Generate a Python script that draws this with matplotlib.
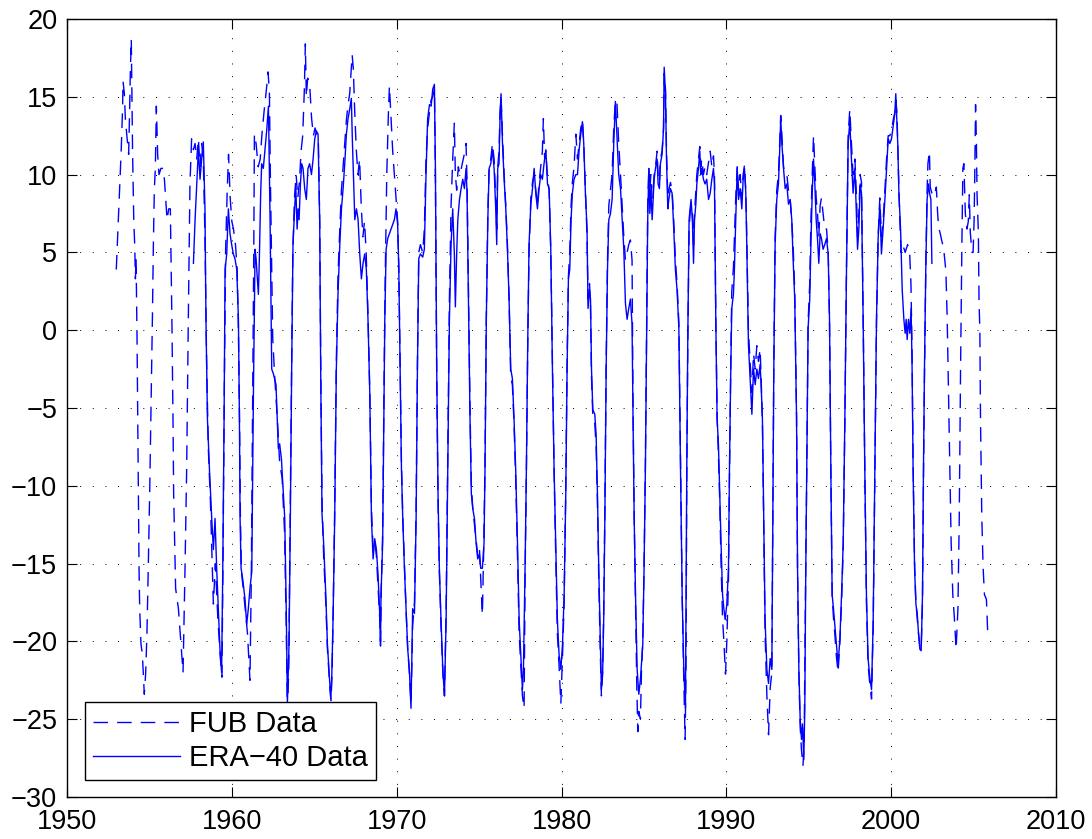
import matplotlib
matplotlib.use('Agg')
import matplotlib.pyplot as plt

plt.rcParams['font.family'] = ['Liberation Sans', 'DejaVu Sans']

# FUB data (dashed), decimal year / value
fub_years = [
    1952.99, 1953.09, 1953.19, 1953.29, 1953.37, 1953.40, 1953.48, 1953.54, 1953.64, 1953.74,
    1953.80, 1953.84, 1953.90, 1953.94, 1953.98, 1954.05, 1954.11, 1954.15, 1954.19, 1954.25,
    1954.29, 1954.33, 1954.37, 1954.41, 1954.49, 1954.57, 1954.69, 1954.77, 1954.85, 1954.93,
    1955.02, 1955.10, 1955.18, 1955.24, 1955.30, 1955.36, 1955.42, 1955.50, 1955.58, 1955.70,
    1955.83, 1955.91, 1955.99, 1956.07, 1956.17, 1956.27, 1956.37, 1956.43, 1956.47, 1956.53,
    1956.59, 1956.76, 1956.92, 1957.04, 1957.16, 1957.26, 1957.36, 1957.46, 1957.56, 1957.67,
    1957.77, 1957.87, 1957.97, 1958.07, 1958.17, 1958.27, 1958.37, 1958.47, 1958.57, 1958.70,
    1958.88, 1959.00, 1959.15, 1959.30, 1959.40, 1959.47, 1959.55, 1959.62, 1959.72, 1959.80,
    1959.90, 1960.00, 1960.10, 1960.22, 1960.32, 1960.40, 1960.47, 1960.52, 1960.58, 1960.68,
    1960.82, 1960.95, 1961.10, 1961.18, 1961.25, 1961.33, 1961.37, 1961.47, 1961.60, 1961.72,
    1961.82, 1961.95, 1962.10, 1962.20, 1962.28, 1962.34, 1962.42, 1962.48, 1962.60, 1962.75,
    1962.90, 1963.05, 1963.20, 1963.30, 1963.37, 1963.45, 1963.53, 1963.62, 1963.70, 1963.80,
    1963.90, 1964.00, 1964.10, 1964.20, 1964.30, 1964.40, 1964.46, 1964.52, 1964.60, 1964.72,
    1964.84, 1964.95, 1965.05, 1965.15, 1965.25, 1965.33, 1965.40, 1965.47, 1965.57, 1965.70,
    1965.80, 1965.95, 1966.02, 1966.08, 1966.15, 1966.24, 1966.34, 1966.44, 1966.55, 1966.65,
    1966.75, 1966.85, 1966.95, 1967.05, 1967.15, 1967.30, 1967.37, 1967.45, 1967.55, 1967.65,
    1967.75, 1967.85, 1967.95, 1968.05, 1968.15, 1968.26, 1968.37, 1968.47, 1968.57, 1968.67,
    1968.77, 1968.87, 1968.97, 1969.02, 1969.07, 1969.15, 1969.22, 1969.30, 1969.40, 1969.50,
    1969.56, 1969.66, 1969.76, 1969.86, 1969.96, 1970.06, 1970.13, 1970.21, 1970.29, 1970.37,
    1970.47, 1970.57, 1970.67, 1970.77, 1970.87, 1970.97, 1971.08, 1971.18, 1971.26, 1971.34,
    1971.44, 1971.58, 1971.68, 1971.78, 1971.88, 1971.99, 1972.09, 1972.19, 1972.29, 1972.35,
    1972.43, 1972.51, 1972.59, 1972.69, 1972.80, 1972.90, 1973.00, 1973.10, 1973.20, 1973.30,
    1973.40, 1973.50, 1973.56, 1973.64, 1973.74, 1973.84, 1973.94, 1974.04, 1974.14, 1974.21,
    1974.27, 1974.37, 1974.45, 1974.53, 1974.62, 1974.72, 1974.82, 1974.92, 1975.02, 1975.10,
    1975.20, 1975.28, 1975.36, 1975.44, 1975.53, 1975.61, 1975.71, 1975.81, 1975.91, 1976.01,
    1976.07, 1976.13, 1976.21, 1976.27, 1976.33, 1976.42, 1976.52, 1976.62, 1976.72, 1976.82,
    1976.92, 1977.02, 1977.12, 1977.22, 1977.33, 1977.43, 1977.53, 1977.63, 1977.73, 1977.79,
    1977.87, 1977.95, 1978.03, 1978.14, 1978.24, 1978.34, 1978.44, 1978.54, 1978.64, 1978.74,
    1978.84, 1978.90, 1978.98, 1979.05, 1979.15, 1979.25, 1979.35, 1979.45, 1979.55, 1979.65,
    1979.75, 1979.85, 1979.96, 1980.06, 1980.16, 1980.26, 1980.34, 1980.42, 1980.50, 1980.58,
    1980.66, 1980.76, 1980.87, 1980.97, 1981.07, 1981.17, 1981.27, 1981.35, 1981.45, 1981.55,
    1981.61, 1981.70, 1981.76, 1981.82, 1981.90, 1982.02, 1982.10, 1982.18, 1982.26, 1982.36,
    1982.42, 1982.50, 1982.56, 1982.63, 1982.71, 1982.79, 1982.87, 1982.97, 1983.07, 1983.17,
    1983.27, 1983.37, 1983.47, 1983.58, 1983.68, 1983.78, 1983.88, 1983.98, 1984.08, 1984.18,
    1984.28, 1984.34, 1984.41, 1984.49, 1984.57, 1984.63, 1984.69, 1984.79, 1984.85, 1984.93,
    1985.01, 1985.09, 1985.17, 1985.23, 1985.30, 1985.36, 1985.42, 1985.50, 1985.56, 1985.62,
    1985.70, 1985.80, 1985.86, 1985.94, 1986.00, 1986.10, 1986.19, 1986.23, 1986.31, 1986.37,
    1986.45, 1986.51, 1986.61, 1986.71, 1986.81, 1986.91, 1987.01, 1987.12, 1987.22, 1987.32,
    1987.42, 1987.50, 1987.55, 1987.60, 1987.66, 1987.74, 1987.80, 1987.86, 1987.94, 1988.01,
    1988.07, 1988.15, 1988.21, 1988.31, 1988.39, 1988.45, 1988.51, 1988.61, 1988.71, 1988.81,
    1988.92, 1989.02, 1989.12, 1989.22, 1989.28, 1989.36, 1989.44, 1989.52, 1989.60, 1989.68,
    1989.77, 1989.85, 1989.95, 1990.03, 1990.13, 1990.19, 1990.27, 1990.33, 1990.43, 1990.49,
    1990.57, 1990.66, 1990.74, 1990.84, 1990.94, 1991.02, 1991.10, 1991.18, 1991.24, 1991.34,
    1991.44, 1991.55, 1991.65, 1991.75, 1991.85, 1991.95, 1992.05, 1992.11, 1992.19, 1992.27,
    1992.35, 1992.46, 1992.56, 1992.66, 1992.76, 1992.82, 1992.88, 1992.96, 1993.06, 1993.16,
    1993.22, 1993.30, 1993.37, 1993.47, 1993.57, 1993.67, 1993.77, 1993.87, 1993.97, 1994.05,
    1994.15, 1994.26, 1994.32, 1994.40, 1994.48, 1994.56, 1994.65, 1994.72, 1994.80, 1994.88,
    1994.96, 1995.06, 1995.13, 1995.21, 1995.29, 1995.37, 1995.45, 1995.53, 1995.61, 1995.69,
    1995.77, 1995.87, 1995.97, 1996.08, 1996.18, 1996.26, 1996.34, 1996.42, 1996.50, 1996.58,
    1996.68, 1996.78, 1996.89, 1996.99, 1997.09, 1997.19, 1997.29, 1997.39, 1997.49, 1997.59,
    1997.69, 1997.80, 1997.90, 1997.96, 1998.04, 1998.12, 1998.20, 1998.30, 1998.40, 1998.50,
    1998.60, 1998.71, 1998.81, 1998.91, 1999.01, 1999.11, 1999.21, 1999.31, 1999.41, 1999.51,
    1999.62, 1999.72, 1999.82, 1999.92, 2000.02, 2000.12, 2000.22, 2000.28, 2000.35, 2000.42,
    2000.47, 2000.53, 2000.60, 2000.70, 2000.85, 2001.00, 2001.12, 2001.20, 2001.27, 2001.33,
    2001.42, 2001.50, 2001.58, 2001.66, 2001.74, 2001.82, 2001.90, 2001.96, 2002.02, 2002.10,
    2002.18, 2002.23, 2002.32, 2002.37, 2002.47, 2002.57, 2002.67, 2002.74, 2002.82, 2002.88,
    2002.98, 2003.08, 2003.18, 2003.32, 2003.40, 2003.48, 2003.56, 2003.64, 2003.74, 2003.84,
    2003.94, 2004.05, 2004.13, 2004.21, 2004.29, 2004.35, 2004.41, 2004.50, 2004.60, 2004.68,
    2004.74, 2004.80, 2004.90, 2004.97, 2005.03, 2005.07, 2005.12, 2005.17, 2005.21, 2005.29,
    2005.33, 2005.38, 2005.42, 2005.50, 2005.58, 2005.66, 2005.78, 2005.87,
]
fub_values = [
    3.9, 6.5, 9.1, 11.6, 14.2, 16.0, 15.2, 13.6, 12.4, 11.3,
    14.2, 16.5, 18.7, 15.2, 11.3, 7.1, 5.4, 3.3, 4.6, -0.6,
    -5.7, -10.8, -15.3, -17.9, -20.2, -20.8, -23.4, -22.1, -19.5, -15.3,
    -10.2, -4.7, 0.7, 5.5, 9.1, 10.4, 14.4, 11.3, 10.0, 10.4,
    10.4, 9.7, 8.4, 7.1, 7.8, 7.8, 0.1, -5.7, -10.5, -13.7,
    -16.6, -17.9, -20.2, -22.0, -15.3, -8.9, 0.7, 9.4, 12.3, 11.6,
    12.0, 11.0, 12.3, 10.5, 12.0, 11.0, 6.0, -2.0, -7.5, -11.0,
    -17.6, -15.0, -18.5, -21.0, -22.3, -14.0, -3.0, 5.0, 9.0, 11.3,
    8.5, 7.0, 6.5, 5.5, 4.0, 0.0, -6.0, -12.0, -15.5, -16.5,
    -18.0, -19.5, -22.5, -16.0, -6.0, 5.0, 12.6, 12.0, 10.5, 11.0,
    12.5, 14.0, 15.5, 16.6, 15.2, 9.7, 4.0, -0.5, -3.0, -5.5,
    -8.5, -9.5, -13.0, -19.0, -24.5, -22.0, -13.0, -3.0, 5.0, 8.5,
    10.0, 8.5, 9.5, 11.5, 12.5, 15.5, 18.4, 15.0, 16.2, 15.8,
    13.6, 12.5, 13.0, 12.6, 12.2, 7.0, -3.0, -11.0, -14.5, -17.5,
    -20.5, -23.0, -23.8, -22.0, -18.0, -11.5, -2.0, 3.5, 6.5, 9.0,
    10.5, 12.0, 13.5, 14.5, 15.2, 17.7, 16.8, 14.2, 11.6, 10.0,
    11.0, 8.0, 6.0, 7.0, 5.0, 1.0, -4.0, -11.5, -14.0, -13.5,
    -14.5, -16.5, -18.5, -20.0, -16.5, -13.0, -5.0, 3.0, 10.0, 14.0,
    15.7, 13.6, 11.5, 10.0, 8.5, 7.0, 4.0, -2.0, -8.5, -12.0,
    -15.0, -18.0, -20.5, -22.0, -24.0, -19.0, -17.5, -11.5, -2.0, 5.0,
    5.5, 5.0, 6.5, 11.0, 13.0, 14.0, 14.8, 15.0, 15.5, 10.0,
    -3.0, -11.0, -15.5, -19.0, -22.0, -23.5, -18.0, -8.0, 2.0, 8.0,
    11.0, 13.3, 10.0, 9.0, 10.5, 10.0, 10.5, 11.0, 11.5, 12.0,
    9.5, 1.5, -5.0, -10.0, -11.5, -12.5, -13.5, -14.5, -14.0, -16.0,
    -18.3, -14.0, -8.5, 1.0, 7.5, 10.5, 11.0, 12.0, 11.0, 8.5,
    6.5, 10.5, 11.5, 14.0, 15.0, 12.5, 10.0, 8.0, 5.5, 2.0,
    -3.0, -3.5, -6.0, -9.5, -14.5, -19.5, -21.5, -23.5, -24.3, -16.0,
    -9.0, -1.0, 5.0, 8.5, 9.5, 10.0, 9.0, 8.0, 9.5, 10.5,
    11.5, 13.6, 11.0, 11.5, 9.8, 9.0, 5.0, -2.0, -9.0, -14.5,
    -19.5, -21.5, -24.0, -21.0, -17.5, -10.0, -2.0, 3.5, 5.0, 8.0,
    9.5, 10.5, 12.6, 11.0, 12.0, 13.0, 13.5, 12.0, 9.0, 6.0,
    2.0, 3.0, 1.5, -3.0, -5.5, -6.0, -7.5, -11.0, -16.0, -21.0,
    -23.5, -22.0, -18.0, -11.5, -2.0, 4.5, 8.0, 9.0, 10.0, 13.0,
    14.8, 14.5, 12.0, 10.0, 8.0, 6.0, 4.5, 5.0, 5.5, 5.8,
    4.5, -5.0, -12.0, -17.5, -23.0, -25.8, -24.5, -25.0, -22.0, -20.0,
    -15.0, -8.5, 1.0, 8.0, 10.5, 9.0, 10.0, 8.5, 9.0, 10.0,
    10.5, 11.5, 10.0, 9.5, 11.0, 11.5, 13.0, 16.5, 15.5, 11.5,
    8.5, 9.0, 9.5, 9.0, 7.0, 4.5, 3.0, 0.5, -8.5, -17.0,
    -22.5, -26.3, -22.0, -9.5, -1.0, 6.5, 7.5, 8.0, 7.5, 5.5,
    7.5, 9.0, 10.0, 11.0, 11.8, 10.5, 11.0, 10.0, 10.5, 10.0,
    10.8, 11.5, 10.5, 11.2, 10.0, 1.0, -5.5, -8.0, -11.0, -15.0,
    -18.5, -20.0, -22.1, -20.0, -16.0, -9.5, -2.0, 2.5, 4.0, 6.0,
    8.5, 10.5, 9.0, 10.0, 8.5, 10.0, 10.6, 9.0, 6.0, 0.0,
    -2.0, -4.0, -1.5, -2.5, -1.0, -2.0, -1.2, -3.0, -6.0, -13.0,
    -19.5, -23.5, -26.0, -23.0, -22.0, -12.5, -2.0, 6.0, 9.0, 10.0,
    11.5, 13.8, 12.5, 10.5, 10.0, 10.0, 9.0, 8.5, 7.0, 5.5,
    2.5, -5.5, -15.5, -22.0, -25.5, -27.0, -28.0, -26.5, -17.0, -9.0,
    0.5, 3.0, 7.0, 10.0, 12.5, 10.5, 8.5, 7.5, 6.0, 8.0,
    8.5, 7.5, 6.5, 6.5, 5.0, 0.5, -9.0, -17.0, -18.5, -19.5,
    -21.0, -22.0, -20.0, -17.5, -14.0, -6.0, 4.0, 12.5, 14.2, 12.0,
    10.0, 11.0, 8.5, 6.0, 7.5, 10.0, 9.5, 1.0, -9.0, -17.5,
    -21.5, -22.8, -23.7, -19.0, -9.0, 0.5, 6.0, 8.5, 6.0, 7.0,
    9.0, 11.0, 12.5, 12.5, 12.8, 13.5, 14.0, 14.8, 14.0, 11.0,
    9.0, 7.0, 5.0, 5.5, 5.0, 5.5, 5.0, 3.0, -1.5, -8.5,
    -15.0, -17.5, -18.5, -19.5, -20.3, -20.5, -17.5, -9.5, -3.0, 4.0,
    9.0, 10.7, 11.5, 9.2, 8.8, 8.6, 8.9, 9.2, 7.5, 6.6,
    6.2, 5.7, 5.3, 3.8, 0.7, -4.1, -8.9, -13.7, -17.0, -18.6,
    -20.5, -17.9, -12.1, -2.5, 5.5, 10.4, 10.7, 7.5, 6.5, 7.0,
    8.7, 6.3, 5.0, 5.0, 7.0, 9.8, 14.5, 12.2, 8.7, 6.3,
    1.9, 0.0, -5.7, -12.1, -15.3, -17.0, -17.3, -19.8,
]

# ERA-40 data (solid)
era_years = [
    1957.67, 1957.77, 1957.87, 1957.97, 1958.07, 1958.17, 1958.27, 1958.37, 1958.43, 1958.52,
    1958.64, 1958.78, 1958.88, 1958.98, 1959.08, 1959.18, 1959.28, 1959.38, 1959.45, 1959.53,
    1959.59, 1959.69, 1959.79, 1959.89, 1959.99, 1960.09, 1960.19, 1960.30, 1960.40, 1960.46,
    1960.50, 1960.56, 1960.66, 1960.80, 1960.90, 1961.00, 1961.10, 1961.21, 1961.31, 1961.41,
    1961.47, 1961.55, 1961.61, 1961.67, 1961.75, 1961.81, 1961.91, 1962.01, 1962.12, 1962.22,
    1962.32, 1962.42, 1962.52, 1962.68, 1962.82, 1962.90, 1963.01, 1963.11, 1963.21, 1963.31,
    1963.37, 1963.47, 1963.55, 1963.63, 1963.71, 1963.81, 1963.88, 1963.96, 1964.02, 1964.08,
    1964.16, 1964.24, 1964.32, 1964.42, 1964.52, 1964.62, 1964.72, 1964.83, 1964.93, 1965.03,
    1965.13, 1965.23, 1965.33, 1965.39, 1965.47, 1965.57, 1965.70, 1965.80, 1965.94, 1966.00,
    1966.06, 1966.14, 1966.24, 1966.34, 1966.44, 1966.55, 1966.65, 1966.75, 1966.85, 1966.95,
    1967.05, 1967.15, 1967.25, 1967.31, 1967.39, 1967.46, 1967.56, 1967.66, 1967.76, 1967.86,
    1967.96, 1968.06, 1968.16, 1968.26, 1968.37, 1968.47, 1968.57, 1968.67, 1968.77, 1968.87,
    1968.97, 1969.02, 1969.05, 1969.15, 1969.22, 1969.28, 1969.36, 1969.46, 1969.56, 1969.66,
    1969.76, 1969.86, 1969.96, 1970.06, 1970.13, 1970.21, 1970.29, 1970.37, 1970.47, 1970.57,
    1970.67, 1970.77, 1970.87, 1970.97, 1971.08, 1971.18, 1971.26, 1971.34, 1971.44, 1971.58,
    1971.68, 1971.78, 1971.88, 1971.99, 1972.09, 1972.19, 1972.29, 1972.35, 1972.43, 1972.51,
    1972.59, 1972.69, 1972.80, 1972.90, 1973.00, 1973.10, 1973.20, 1973.30, 1973.40, 1973.50,
    1973.56, 1973.64, 1973.71, 1973.81, 1973.91, 1974.01, 1974.11, 1974.21, 1974.27, 1974.37,
    1974.45, 1974.53, 1974.62, 1974.72, 1974.82, 1974.92, 1975.02, 1975.10, 1975.20, 1975.30,
    1975.36, 1975.44, 1975.53, 1975.61, 1975.71, 1975.81, 1975.91, 1976.01, 1976.07, 1976.13,
    1976.21, 1976.27, 1976.33, 1976.42, 1976.52, 1976.62, 1976.72, 1976.82, 1976.92, 1977.02,
    1977.12, 1977.22, 1977.33, 1977.43, 1977.53, 1977.63, 1977.69, 1977.79, 1977.87, 1977.95,
    1978.03, 1978.14, 1978.24, 1978.34, 1978.44, 1978.54, 1978.64, 1978.74, 1978.84, 1978.94,
    1979.05, 1979.15, 1979.25, 1979.35, 1979.45, 1979.55, 1979.65, 1979.75, 1979.85, 1979.96,
    1980.06, 1980.16, 1980.26, 1980.34, 1980.42, 1980.50, 1980.58, 1980.66, 1980.76, 1980.87,
    1980.97, 1981.07, 1981.17, 1981.27, 1981.35, 1981.45, 1981.55, 1981.61, 1981.70, 1981.76,
    1981.82, 1981.90, 1982.02, 1982.10, 1982.18, 1982.26, 1982.36, 1982.42, 1982.50, 1982.56,
    1982.63, 1982.71, 1982.79, 1982.87, 1982.97, 1983.07, 1983.17, 1983.27, 1983.37, 1983.47,
    1983.58, 1983.68, 1983.78, 1983.88, 1983.98, 1984.08, 1984.18, 1984.28, 1984.34, 1984.41,
    1984.49, 1984.59, 1984.69, 1984.79, 1984.85, 1984.93, 1985.01, 1985.09, 1985.17, 1985.23,
    1985.30, 1985.36, 1985.42, 1985.50, 1985.56, 1985.62, 1985.70, 1985.80, 1985.86, 1985.94,
    1986.00, 1986.10, 1986.19, 1986.23, 1986.31, 1986.37, 1986.45, 1986.51, 1986.61, 1986.71,
    1986.81, 1986.91, 1987.01, 1987.12, 1987.22, 1987.32, 1987.42, 1987.52, 1987.60, 1987.66,
    1987.74, 1987.80, 1987.86, 1987.94, 1988.01, 1988.07, 1988.15, 1988.21, 1988.31, 1988.39,
    1988.45, 1988.51, 1988.61, 1988.71, 1988.81, 1988.92, 1989.02, 1989.12, 1989.22, 1989.28,
    1989.36, 1989.44, 1989.52, 1989.60, 1989.68, 1989.77, 1989.85, 1989.93, 1990.03, 1990.13,
    1990.19, 1990.27, 1990.33, 1990.43, 1990.49, 1990.57, 1990.66, 1990.74, 1990.84, 1990.94,
    1991.02, 1991.10, 1991.18, 1991.24, 1991.34, 1991.44, 1991.55, 1991.65, 1991.75, 1991.85,
    1991.95, 1992.05, 1992.11, 1992.19, 1992.27, 1992.35, 1992.46, 1992.56, 1992.66, 1992.76,
    1992.82, 1992.88, 1992.96, 1993.06, 1993.16, 1993.22, 1993.30, 1993.37, 1993.47, 1993.57,
    1993.67, 1993.77, 1993.87, 1993.97, 1994.05, 1994.15, 1994.26, 1994.32, 1994.40, 1994.48,
    1994.56, 1994.62, 1994.70, 1994.76, 1994.82, 1994.88, 1994.96, 1995.06, 1995.13, 1995.21,
    1995.29, 1995.37, 1995.45, 1995.53, 1995.61, 1995.69, 1995.77, 1995.87, 1995.97, 1996.08,
    1996.18, 1996.26, 1996.34, 1996.42, 1996.50, 1996.58, 1996.68, 1996.78, 1996.89, 1996.99,
    1997.09, 1997.19, 1997.29, 1997.39, 1997.49, 1997.59, 1997.69, 1997.80, 1997.90, 1997.96,
    1998.04, 1998.12, 1998.20, 1998.30, 1998.40, 1998.50, 1998.60, 1998.71, 1998.81, 1998.91,
    1999.01, 1999.11, 1999.21, 1999.31, 1999.41, 1999.51, 1999.62, 1999.72, 1999.82, 1999.92,
    2000.02, 2000.12, 2000.22, 2000.28, 2000.40, 2000.47, 2000.57, 2000.67, 2000.77, 2000.85,
    2000.91, 2000.97, 2001.05, 2001.13, 2001.21, 2001.27, 2001.33, 2001.42, 2001.50, 2001.58,
    2001.66, 2001.74, 2001.82, 2001.90, 2001.96, 2002.02, 2002.10, 2002.18, 2002.27, 2002.33,
    2002.41, 2002.47,
]
era_values = [
    4.3, 7.1, 9.4, 11.6, 9.7, 11.0, 12.1, 7.8, 0.7, -5.7,
    -8.9, -12.1, -14.1, -12.1, -15.3, -17.9, -20.5, -22.0, -15.3, -5.7,
    3.9, 4.9, 7.8, 6.2, 5.5, 4.9, 4.6, 3.9, 0.7, -5.7,
    -12.1, -15.3, -16.0, -17.3, -18.9, -17.9, -16.6, -15.5, -4.0, 5.2,
    4.6, 3.3, 2.3, 4.6, 8.8, 10.7, 10.4, 11.6, 12.9, 14.4,
    7.1, -2.5, -2.8, -3.5, -7.6, -7.3, -8.3, -10.2, -12.1, -18.5,
    -24.0, -20.2, -12.1, -2.5, 5.5, 7.8, 9.2, 6.5, 7.8, 7.1,
    9.4, 10.7, 10.4, 9.1, 8.4, 10.4, 10.7, 10.0, 11.0, 12.3,
    12.8, 12.6, 7.1, -2.5, -11.8, -13.7, -17.0, -20.2, -22.7, -23.7,
    -22.4, -18.6, -12.1, -2.5, 2.3, 5.5, 7.8, 9.1, 10.7, 12.6,
    13.6, 14.2, 14.9, 12.3, 9.4, 7.1, 7.8, 7.1, 4.9, 3.3,
    4.3, 4.9, 3.9, 0.7, -4.1, -12.1, -14.7, -13.4, -14.1, -15.7,
    -18.2, -20.3, -17.0, -13.7, -5.7, 0.7, 5.2, 5.9, 6.2, 6.5,
    6.8, 7.1, 7.8, 6.8, 3.9, -2.5, -8.9, -12.1, -15.3, -17.9,
    -20.5, -21.8, -24.3, -17.9, -18.2, -12.1, -2.5, 4.6, 4.9, 4.7,
    5.2, 10.0, 13.6, 14.5, 14.4, 15.5, 15.8, 10.4, -2.5, -10.5,
    -15.3, -18.6, -21.8, -23.5, -18.6, -8.9, 0.7, 5.5, 7.8, 4.9,
    1.5, 4.9, 7.1, 8.4, 9.1, 9.7, 9.1, 10.4, 8.8, 0.7,
    -5.7, -10.5, -11.5, -12.1, -13.7, -14.7, -14.4, -15.3, -15.3, -13.7,
    -8.9, 0.7, 7.1, 10.4, 10.7, 11.6, 10.4, 7.8, 5.5, 10.4,
    10.7, 13.6, 15.2, 12.0, 9.7, 7.8, 5.2, 2.0, -2.5, -3.1,
    -5.7, -8.9, -13.7, -18.6, -20.8, -23.1, -21.8, -15.3, -8.9, -0.9,
    5.5, 8.1, 9.1, 10.4, 8.8, 7.8, 9.1, 10.0, 9.7, 10.7,
    11.6, 9.4, 9.1, 5.2, -2.5, -8.9, -13.7, -18.6, -20.8, -21.8,
    -20.2, -17.0, -10.5, -2.5, 3.3, 3.9, 7.1, 8.8, 9.7, 10.0,
    10.0, 11.6, 12.6, 13.4, 12.0, 8.8, 6.5, 1.4, 2.6, 2.0,
    -2.5, -5.1, -5.4, -6.7, -10.5, -15.3, -20.2, -23.1, -21.8, -18.6,
    -12.1, -2.5, 3.9, 7.1, 7.5, 8.4, 12.0, 14.7, 12.3, 10.0,
    9.1, 7.1, 5.2, 1.7, 0.7, 1.4, 2.0, 0.4, -5.7, -12.1,
    -17.0, -21.8, -23.4, -22.4, -21.5, -20.2, -15.3, -8.9, 0.7, 7.1,
    10.4, 7.5, 9.1, 7.1, 8.4, 9.7, 10.4, 11.0, 9.4, 9.1,
    10.7, 11.3, 12.9, 16.9, 15.2, 11.0, 7.8, 8.4, 9.1, 8.8,
    6.5, 3.9, 2.6, 0.1, -8.9, -17.0, -21.8, -24.3, -8.9, -0.7,
    7.1, 7.8, 8.4, 7.1, 4.3, 7.1, 8.1, 9.4, 10.4, 11.5,
    10.0, 10.4, 9.7, 9.4, 9.7, 8.4, 8.8, 9.7, 10.4, 9.4,
    0.7, -5.7, -7.3, -10.5, -13.7, -17.0, -17.9, -18.6, -17.6, -15.3,
    -8.9, -2.5, 1.4, 2.3, 3.9, 7.1, 10.4, 8.4, 9.1, 7.8,
    9.7, 10.4, 8.8, 5.5, -0.9, -3.1, -5.4, -2.5, -3.5, -2.5,
    -3.1, -2.2, -3.5, -5.7, -12.1, -18.6, -21.8, -22.7, -21.1, -21.8,
    -12.1, -2.5, 5.5, 8.4, 9.4, 11.0, 13.6, 12.0, 10.4, 9.1,
    9.4, 8.1, 8.4, 7.1, 4.6, 2.0, -5.7, -15.3, -21.8, -25.0,
    -26.3, -25.3, -27.6, -24.3, -15.3, -8.9, 0.1, 2.0, 5.5, 8.8,
    11.0, 9.4, 7.1, 5.9, 4.3, 6.2, 5.9, 5.2, 5.5, 5.9,
    4.9, 0.7, -8.9, -17.0, -17.9, -18.9, -20.2, -21.5, -19.8, -17.0,
    -13.7, -5.7, 3.9, 12.0, 13.4, 11.0, 8.8, 10.4, 7.1, 5.2,
    6.5, 9.4, 8.8, 0.7, -8.9, -17.0, -21.1, -22.4, -23.1, -18.6,
    -8.9, 0.7, 5.9, 8.1, 4.9, 6.5, 8.4, 10.4, 12.3, 12.0,
    12.3, 13.1, 13.9, 15.2, 12.0, 8.8, 6.5, 2.6, 0.7, -0.2,
    0.7, -0.6, 0.7, -0.2, 1.4, -2.5, -8.9, -15.3, -17.6, -18.2,
    -19.5, -20.5, -20.6, -17.0, -8.9, -2.5, 3.9, 8.4, 9.4, 8.8,
    8.4, 4.3,
]

x_ticks = [1950, 1960, 1970, 1980, 1990, 2000, 2010]
y_ticks = [-30, -25, -20, -15, -10, -5, 0, 5, 10, 15, 20]
series_labels = ['FUB Data', 'ERA\u221240 Data']

fig = plt.figure(figsize=(10.92, 8.39), dpi=100)
ax = fig.add_axes([67 / 1092, 1 - 797 / 839, 989 / 1092, 778 / 839])

ax.plot(fub_years, fub_values, color='#0000ff', linewidth=1.0,
        linestyle=(0, (10.5, 6.5)), label=series_labels[0])
ax.plot(era_years, era_values, color='#0000ff', linewidth=1.0,
        linestyle='-', label=series_labels[1])

ax.set_xlim(1950, 2010)
ax.set_ylim(-30, 20)
ax.set_xticks(x_ticks)
ax.set_yticks(y_ticks)

ax.grid(True, color='black', linewidth=0.7, linestyle=(0, (1, 12)))
ax.tick_params(direction='in', length=7, width=0.8, top=True, right=True,
               labelsize=19.5)
ax.tick_params(axis='x', pad=8.5)
ax.tick_params(axis='y', pad=7)
for sp in ax.spines.values():
    sp.set_linewidth(1.0)

leg = ax.legend(loc='lower left', bbox_to_anchor=(0.018, 0.022), borderaxespad=0,
                fontsize=21, handlelength=3.0, fancybox=False, framealpha=1,
                edgecolor='black', labelspacing=0.2, borderpad=0.28, handletextpad=0.3)
leg.get_frame().set_linewidth(1.0)

fig.savefig('out.png', dpi=100)
